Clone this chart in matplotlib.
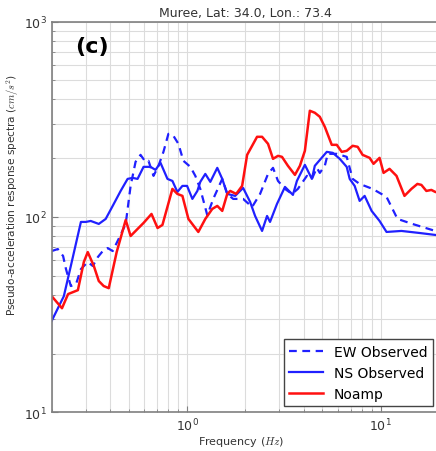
import matplotlib
matplotlib.use('Agg')
import matplotlib.pyplot as plt

# Data (frequency in Hz, PSA in cm/s^2)
ew_freq = [0.20, 0.215, 0.229, 0.237, 0.251, 0.267, 0.283, 0.307, 0.326, 0.346,
           0.367, 0.389, 0.413, 0.443, 0.482, 0.511, 0.542, 0.575, 0.610, 0.632,
           0.671, 0.712, 0.755, 0.801, 0.850, 0.902, 0.957, 1.04, 1.103, 1.17,
           1.272, 1.365, 1.519, 1.612, 1.73, 1.947, 2.167, 2.382, 2.618, 2.778,
           2.947, 3.202, 3.479, 3.734, 4.155, 4.41, 4.676, 4.845, 5.142, 5.328,
           5.928, 6.671, 7.161, 7.78, 9.075, 10.71, 12.20, 14.57, 19.13, 20.0]
ew_psa = [66.9, 68.5, 63.1, 54.1, 44.3, 45.3, 54.1, 58.8, 56.1, 62.3,
          66.9, 69.3, 66.9, 77.1, 92.1, 144.2, 191.5, 207.9, 191.5, 193.8,
          162.3, 182.7, 215.4, 266.4, 260.2, 236.8, 193.8, 180.5, 162.3, 139.2,
          102.0, 123.7, 156.6, 131.2, 123.7, 123.7, 112.5, 131.2, 166.1, 178.4,
          152.9, 139.2, 131.2, 139.2, 162.3, 156.6, 178.4, 168.1, 182.7, 210.4,
          210.4, 203.1, 156.6, 147.6, 139.2, 126.7, 97.7, 92.1, 84.8, 84.0]

ns_freq = [0.20, 0.231, 0.251, 0.283, 0.300, 0.318, 0.350, 0.380, 0.413, 0.454,
           0.493, 0.523, 0.555, 0.596, 0.647, 0.687, 0.729, 0.792, 0.840, 0.891,
           0.946, 1.00, 1.065, 1.13, 1.17, 1.242, 1.318, 1.432, 1.519, 1.612,
           1.771, 1.947, 2.116, 2.245, 2.439, 2.588, 2.681, 2.912, 3.202, 3.52,
           3.69, 4.057, 4.41, 4.566, 5.265, 5.652, 6.14, 6.671, 6.912, 7.333,
           7.78, 8.257, 8.97, 9.86, 10.71, 12.79, 15.83, 19.13, 20.0]
ns_psa = [29.4, 39.3, 56.1, 94.3, 94.3, 95.4, 92.1, 97.7, 113.9, 135.9,
          156.6, 158.5, 156.6, 180.5, 180.5, 174.2, 189.3, 156.6, 152.9, 134.3,
          144.2, 144.2, 123.7, 135.9, 151.2, 166.1, 151.2, 178.4, 156.6, 131.2,
          128.2, 140.8, 119.4, 101.2, 84.8, 101.2, 94.3, 116.6, 142.5, 129.7,
          152.9, 184.8, 156.6, 182.7, 215.4, 212.9, 198.4, 180.5, 156.6, 144.2,
          120.8, 128.2, 107.4, 95.4, 83.8, 84.8, 82.8, 80.9, 80.5]

noamp_freq = [0.20, 0.226, 0.243, 0.257, 0.273, 0.293, 0.307, 0.330, 0.350, 0.371,
              0.394, 0.433, 0.482, 0.511, 0.555, 0.596, 0.655, 0.704, 0.746, 0.840,
              0.891, 0.946, 1.016, 1.143, 1.242, 1.349, 1.432, 1.519, 1.612, 1.67,
              1.793, 1.924, 2.042, 2.167, 2.298, 2.439, 2.618, 2.778, 2.947, 3.09,
              3.317, 3.605, 3.824, 4.057, 4.304, 4.566, 4.845, 5.142, 5.585, 5.928,
              6.287, 6.671, 7.161, 7.598, 8.06, 8.758, 9.18, 9.86, 10.34, 11.10,
              12.06, 13.26, 14.40, 15.46, 16.21, 17.20, 18.25, 19.13, 20.0]
noamp_psa = [39.3, 34.1, 40.3, 41.2, 42.2, 58.8, 66.1, 56.1, 47.0, 44.3,
             43.2, 66.1, 96.5, 79.9, 86.8, 93.2, 103.6, 87.8, 91.0, 139.2,
             131.2, 128.2, 97.7, 83.8, 97.7, 109.9, 113.9, 107.4, 131.2, 135.9,
             131.2, 144.2, 207.9, 231.3, 257.2, 257.2, 236.8, 198.4, 205.5, 203.1,
             182.7, 164.2, 182.7, 218.0, 349.6, 341.5, 325.6, 289.4, 234.0, 234.0,
             215.4, 218.0, 231.3, 228.6, 207.9, 200.7, 187.1, 200.7, 168.1, 176.3,
             162.3, 128.2, 139.2, 147.6, 145.9, 135.9, 137.5, 134.3, 133.0]

plt.rcParams['mathtext.fontset'] = 'cm'

fig = plt.figure(figsize=(4.36, 4.52), dpi=100)
ax = fig.add_axes([0.1186, 0.0856, 0.8884, 0.8644])

ax.plot(ew_freq, ew_psa, color='#2020ff', ls=(0, (3.5, 2.5)), lw=1.6, label='EW Observed')
ax.plot(ns_freq, ns_psa, color='#2020ff', lw=1.6, label='NS Observed')
ax.plot(noamp_freq, noamp_psa, color='#ff1010', lw=1.8, label='Noamp')

ax.set_xscale('log')
ax.set_yscale('log')
ax.set_xlim(0.2, 20)
ax.set_ylim(10, 1000)

ax.grid(True, which='both', color='#dcdcdc', lw=0.8)
ax.set_axisbelow(True)
for s in ax.spines.values():
    s.set_color('#808080')
    s.set_linewidth(1.2)
ax.tick_params(which='both', direction='in', colors='#808080', labelcolor='#333333',
               labelsize=9)
ax.tick_params(which='major', length=4)
ax.tick_params(which='minor', length=2)

ax.set_title('Muree, Lat: 34.0, Lon.: 73.4', fontsize=9, color='#333333', pad=4)
ax.set_xlabel('Frequency ($Hz$)', fontsize=8, color='#333333')
ax.set_ylabel('Pseudo-acceleration response spectra ($cm/s^2$)', fontsize=7.6,
              color='#333333')
ax.yaxis.set_label_coords(-0.08, 0.56)
ax.xaxis.set_label_coords(0.49, -0.055)

ax.text(0.06, 0.962, '(c)', transform=ax.transAxes, fontsize=16, fontweight='bold',
        va='top', ha='left')

leg = ax.legend(loc='lower right', fontsize=10, fancybox=False, framealpha=1,
                borderaxespad=0.45, handlelength=2.4)
leg.get_frame().set_edgecolor('#444444')

fig.savefig('out.png', dpi=100)
